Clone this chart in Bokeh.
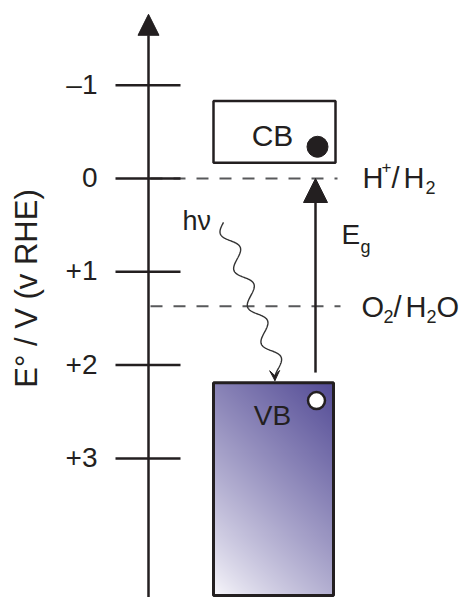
import numpy as np
from bokeh.plotting import figure
from bokeh.models import Range1d, Arrow, NormalHead, VeeHead, ColumnDataSource
from bokeh.core.properties import value
from bokeh.embed import file_html
from bokeh.resources import INLINE

# ---------------- data (potentials in V vs RHE, as drawn) ----------------
tick_values = [-1, 0, 1, 2, 3]
tick_labels = ["\u20131", "0", "+1", "+2", "+3"]
redox_levels = [0.0, 1.37]          # H+/H2 , O2/H2O (as drawn)
cb_band = [-0.83, -0.17]            # CB top, bottom
vb_band = [2.19, 4.47]              # VB top, bottom
electron_level = [-0.34]
hole_level = [2.38]
gap_arrow = [2.08, 0.0]             # Eg arrow start, end
photon = [0.47, 2.14]               # h-nu squiggle start, end
axis_extent = [4.5, -1.76]          # axis line bottom, arrow tip
y_label = "E\u00b0 / V (v RHE)"
band_names = ["CB", "VB"]

# ---------------- layout helpers ----------------
INK = "#231f20"
FONT = value("Liberation Sans")
Y0, PXV = 178.0, 93.3               # window pixel of 0 V, pixels per volt
TSHIFT = -11                        # baseline correction for svg text


def Y(v):
    return -np.asarray(v, dtype=float)


def VP(ywin):
    return (np.asarray(ywin, dtype=float) - Y0) / PXV


W, H = 463, 597
p = figure(width=W, height=H, x_range=Range1d(0, W),
           y_range=Range1d(float(Y(VP(H))), float(Y(VP(0)))),
           output_backend="svg", toolbar_location=None, min_border=0,
           x_axis_location=None, y_axis_location=None)
p.grid.visible = False
p.outline_line_color = None
p.background_fill_color = "white"
p.border_fill_color = "white"

# ---------------- VB gradient ----------------
vb_left, vb_right = 213, 333
ny, nx = 211, 120
u = np.linspace(0, 1, nx)[None, :]
w = np.linspace(0, 1, ny)[:, None]
d = np.clip((0.45 * u + 0.8 * w) / 1.25, 0, 1) ** 0.85
dark = np.array([84, 76, 150], dtype=float)
light = np.array([250, 249, 253], dtype=float)
rgb = light + (dark - light) * d[..., None]
img = np.empty((ny, nx), dtype=np.uint32)
view = img.view(dtype=np.uint8).reshape((ny, nx, 4))
view[..., 0] = rgb[..., 0]
view[..., 1] = rgb[..., 1]
view[..., 2] = rgb[..., 2]
view[..., 3] = 255
p.image_rgba(image=[img], x=vb_left, y=float(Y(vb_band[1])),
             dw=vb_right - vb_left, dh=vb_band[1] - vb_band[0])
p.quad(left=[vb_left], right=[vb_right], top=[float(Y(vb_band[0]))],
       bottom=[float(Y(vb_band[1]))], fill_alpha=0, line_color=INK, line_width=3)

# ---------------- CB box ----------------
p.quad(left=[213], right=[335], top=[float(Y(cb_band[0]))],
       bottom=[float(Y(cb_band[1]))], fill_alpha=0, line_color=INK, line_width=2.5)

# ---------------- redox dashed levels ----------------
p.segment(x0=[150, 150], x1=[337, 340], y0=Y(redox_levels), y1=Y(redox_levels),
          line_color="#58595b", line_width=2, line_dash="12 11")

# ---------------- axis ----------------
p.add_layout(Arrow(end=NormalHead(size=21, fill_color=INK, line_color=INK, line_width=1),
                   x_start=148, y_start=float(Y(axis_extent[0])),
                   x_end=148, y_end=float(Y(axis_extent[1])),
                   line_color=INK, line_width=2.5))
tsrc = ColumnDataSource(dict(y=Y(tick_values), lab=tick_labels))
p.segment(x0=115, x1=180, y0="y", y1="y", source=tsrc, line_color=INK, line_width=2.5)
p.text(x=97, y="y", text="lab", source=tsrc, text_align="right",
       text_baseline="alphabetic", y_offset=10 + TSHIFT, text_font=FONT,
       text_font_size="28px", text_color=INK)

p.text(x=[37 + TSHIFT], y=[float(Y(VP(288)))], text=[y_label], angle=np.pi / 2,
       text_align="center", text_baseline="alphabetic", text_font=FONT,
       text_font_size="31px", text_color=INK)

# ---------------- carriers ----------------
p.scatter(x=[317], y=Y(electron_level), size=21, fill_color=INK, line_color=INK)
p.scatter(x=[316], y=Y(hole_level), size=17, fill_color="white",
          line_color=INK, line_width=2.5)

# ---------------- band gap arrow ----------------
p.add_layout(Arrow(end=NormalHead(size=24, fill_color=INK, line_color=INK, line_width=1),
                   x_start=315, y_start=float(Y(gap_arrow[0])),
                   x_end=315, y_end=float(Y(gap_arrow[1])),
                   line_color=INK, line_width=2.5))

# ---------------- photon squiggle ----------------
x0p, x1p = 223.0, 281.0
y0p, y1p = Y0 + photon[0] * PXV, Y0 + photon[1] * PXV
s = np.linspace(0, 1, 300)
dx, dy = x1p - x0p, y1p - y0p
L = np.hypot(dx, dy)
nxp, nyp = dy / L, -dx / L
amp = 7.0
off = -amp * np.sin(2 * np.pi * 4.25 * s)
sx = x0p + dx * s + off * nxp
sy = y0p + dy * s + off * nyp
yy = Y(VP(sy))
p.line(x=sx, y=yy, line_color="#333333", line_width=1.4)
p.add_layout(Arrow(end=VeeHead(size=10, fill_color=INK, line_color=INK, line_width=1),
                   x_start=float(sx[-8]), y_start=float(yy[-8]),
                   x_end=float(sx[-1]), y_end=float(yy[-1]),
                   line_alpha=0))

# ---------------- labels ----------------
def label(x, ywin, t, size, align="left"):
    p.text(x=[x], y=[float(Y(VP(ywin + TSHIFT)))], text=[t], text_align=align,
           text_baseline="alphabetic", text_font=FONT,
           text_font_size=f"{size}px", text_color=INK)


label(272, 146, band_names[0], 30, "center")
label(272, 426, band_names[1], 28, "center")
label(182, 231, "h\u03bd", 27)
# Eg
label(341, 245, "E", 28)
label(360, 257, "g", 18)
# H+/H2
label(362, 188, "H", 29)
label(381, 177, "+", 17)
label(391, 188, "/", 29)
label(403, 188, "H", 29)
label(425, 198, "2", 18)
# O2/H2O
label(361, 317, "O", 29)
label(383, 327, "2", 18)
label(393, 317, "/", 29)
label(405, 317, "H", 29)
label(426, 327, "2", 18)
label(436, 317, "O", 29)

open("out.html", "w").write(file_html(p, INLINE))
